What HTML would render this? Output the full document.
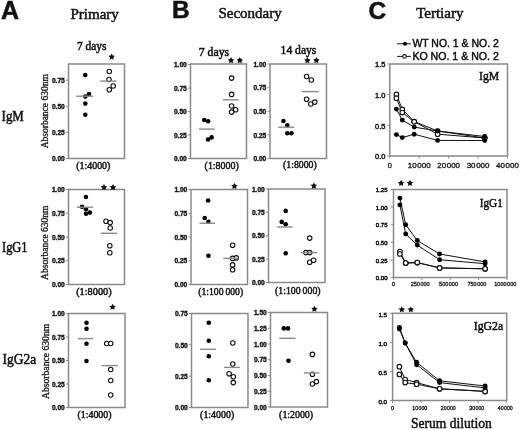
<!DOCTYPE html>
<html><head><meta charset="utf-8"><title>Figure</title>
<style>html,body{margin:0;padding:0;background:#fff;} body{width:520px;height:430px;overflow:hidden;font-family:"Liberation Sans", sans-serif;} svg{display:block;filter:grayscale(1);}</style>
</head><body>
<svg width="520" height="430" viewBox="0 0 520 430">
<rect width="520" height="430" fill="#fff"/>
<text x="1.00" y="18.50" font-family='"Liberation Sans", sans-serif' font-size="25" font-weight="bold" text-anchor="start" fill="#111" stroke="#111" stroke-width="0.5" >A</text>
<text x="171.90" y="18.30" font-family='"Liberation Sans", sans-serif' font-size="24.5" font-weight="bold" text-anchor="start" fill="#111" stroke="#111" stroke-width="0.5" >B</text>
<text x="368.40" y="19.20" font-family='"Liberation Sans", sans-serif' font-size="24.5" font-weight="bold" text-anchor="start" fill="#111" stroke="#111" stroke-width="0.5" >C</text>
<text x="70.50" y="18.80" font-family='"Liberation Serif", serif' font-size="15" font-weight="normal" text-anchor="start" fill="#111" stroke="#111" stroke-width="0.5" >Primary</text>
<text x="218.40" y="18.20" font-family='"Liberation Serif", serif' font-size="15" font-weight="normal" text-anchor="start" fill="#111" stroke="#111" stroke-width="0.5" >Secondary</text>
<text x="416.20" y="17.50" font-family='"Liberation Serif", serif' font-size="15" font-weight="normal" text-anchor="start" fill="#111" stroke="#111" stroke-width="0.5" >Tertiary</text>
<text x="1.60" y="121.00" font-family='"Liberation Serif", serif' font-size="14" font-weight="normal" text-anchor="start" fill="#111" stroke="#111" stroke-width="0.5" textLength="22.20" lengthAdjust="spacingAndGlyphs" >IgM</text>
<text x="2.00" y="252.00" font-family='"Liberation Serif", serif' font-size="14" font-weight="normal" text-anchor="start" fill="#111" stroke="#111" stroke-width="0.5" textLength="25.60" lengthAdjust="spacingAndGlyphs" >IgG1</text>
<text x="2.60" y="364.00" font-family='"Liberation Serif", serif' font-size="14" font-weight="normal" text-anchor="start" fill="#111" stroke="#111" stroke-width="0.5" textLength="33.60" lengthAdjust="spacingAndGlyphs" >IgG2a</text>
<text transform="translate(47.90,148.30) rotate(-90)" font-family='"Liberation Serif", serif' font-size="10" fill="#111" stroke="#111" stroke-width="0.3" textLength="74.10" lengthAdjust="spacingAndGlyphs">Absorbance 630nm</text>
<text transform="translate(48.30,279.90) rotate(-90)" font-family='"Liberation Serif", serif' font-size="10" fill="#111" stroke="#111" stroke-width="0.3" textLength="74.40" lengthAdjust="spacingAndGlyphs">Absorbance 630nm</text>
<text transform="translate(49.00,399.00) rotate(-90)" font-family='"Liberation Serif", serif' font-size="10" fill="#111" stroke="#111" stroke-width="0.3" textLength="75.20" lengthAdjust="spacingAndGlyphs">Absorbance 630nm</text>
<rect x="68.50" y="64.00" width="56.00" height="94.50" fill="none" stroke="#8a8a8a" stroke-width="1.5"/>
<line x1="66.00" y1="158.50" x2="68.50" y2="158.50" stroke="#8a8a8a" stroke-width="1"/>
<text x="64.80" y="161.20" font-family='"Liberation Sans", sans-serif' font-size="6.6" font-weight="bold" text-anchor="end" fill="#111" stroke="#111" stroke-width="0.35" >0.00</text>
<line x1="66.00" y1="132.40" x2="68.50" y2="132.40" stroke="#8a8a8a" stroke-width="1"/>
<text x="64.80" y="135.10" font-family='"Liberation Sans", sans-serif' font-size="6.6" font-weight="bold" text-anchor="end" fill="#111" stroke="#111" stroke-width="0.35" >0.25</text>
<line x1="66.00" y1="106.30" x2="68.50" y2="106.30" stroke="#8a8a8a" stroke-width="1"/>
<text x="64.80" y="109.00" font-family='"Liberation Sans", sans-serif' font-size="6.6" font-weight="bold" text-anchor="end" fill="#111" stroke="#111" stroke-width="0.35" >0.50</text>
<line x1="66.00" y1="80.20" x2="68.50" y2="80.20" stroke="#8a8a8a" stroke-width="1"/>
<text x="64.80" y="82.90" font-family='"Liberation Sans", sans-serif' font-size="6.6" font-weight="bold" text-anchor="end" fill="#111" stroke="#111" stroke-width="0.35" >0.75</text>
<circle cx="85.30" cy="75.00" r="2.3" fill="#000"/>
<circle cx="89.00" cy="94.10" r="2.3" fill="#000"/>
<circle cx="85.30" cy="96.60" r="2.3" fill="#000"/>
<circle cx="85.30" cy="103.60" r="2.3" fill="#000"/>
<circle cx="85.30" cy="114.80" r="2.3" fill="#000"/>
<line x1="76.20" y1="96.20" x2="93.00" y2="96.20" stroke="#8a8a8a" stroke-width="1.4"/>
<circle cx="109.30" cy="71.50" r="2.25" fill="#fff" stroke="#111" stroke-width="1.1"/>
<circle cx="109.00" cy="79.50" r="2.25" fill="#fff" stroke="#111" stroke-width="1.1"/>
<circle cx="113.20" cy="86.00" r="2.25" fill="#fff" stroke="#111" stroke-width="1.1"/>
<circle cx="109.30" cy="89.70" r="2.25" fill="#fff" stroke="#111" stroke-width="1.1"/>
<line x1="99.90" y1="81.10" x2="116.40" y2="81.10" stroke="#8a8a8a" stroke-width="1.4"/>
<polygon points="111.70,53.50 112.74,55.47 114.93,55.85 113.38,57.45 113.70,59.65 111.70,58.67 109.70,59.65 110.02,57.45 108.47,55.85 110.66,55.47" fill="#111"/>
<text x="77.00" y="49.90" font-family='"Liberation Serif", serif' font-size="11.5" font-weight="normal" text-anchor="start" fill="#111" stroke="#111" stroke-width="0.5" textLength="29.50" lengthAdjust="spacingAndGlyphs" >7 days</text>
<text x="76.20" y="168.80" font-family='"Liberation Serif", serif' font-size="11" font-weight="normal" text-anchor="start" fill="#111" stroke="#111" stroke-width="0.5" textLength="34.20" lengthAdjust="spacingAndGlyphs" >(1:4000)</text>
<rect x="68.50" y="189.50" width="56.00" height="95.00" fill="none" stroke="#8a8a8a" stroke-width="1.5"/>
<line x1="66.00" y1="284.50" x2="68.50" y2="284.50" stroke="#8a8a8a" stroke-width="1"/>
<text x="64.80" y="287.20" font-family='"Liberation Sans", sans-serif' font-size="6.6" font-weight="bold" text-anchor="end" fill="#111" stroke="#111" stroke-width="0.35" >0.00</text>
<line x1="66.00" y1="260.75" x2="68.50" y2="260.75" stroke="#8a8a8a" stroke-width="1"/>
<text x="64.80" y="263.45" font-family='"Liberation Sans", sans-serif' font-size="6.6" font-weight="bold" text-anchor="end" fill="#111" stroke="#111" stroke-width="0.35" >0.25</text>
<line x1="66.00" y1="237.00" x2="68.50" y2="237.00" stroke="#8a8a8a" stroke-width="1"/>
<text x="64.80" y="239.70" font-family='"Liberation Sans", sans-serif' font-size="6.6" font-weight="bold" text-anchor="end" fill="#111" stroke="#111" stroke-width="0.35" >0.50</text>
<line x1="66.00" y1="213.25" x2="68.50" y2="213.25" stroke="#8a8a8a" stroke-width="1"/>
<text x="64.80" y="215.95" font-family='"Liberation Sans", sans-serif' font-size="6.6" font-weight="bold" text-anchor="end" fill="#111" stroke="#111" stroke-width="0.35" >0.75</text>
<line x1="66.00" y1="189.50" x2="68.50" y2="189.50" stroke="#8a8a8a" stroke-width="1"/>
<text x="64.80" y="192.20" font-family='"Liberation Sans", sans-serif' font-size="6.6" font-weight="bold" text-anchor="end" fill="#111" stroke="#111" stroke-width="0.35" >1.00</text>
<circle cx="85.90" cy="197.00" r="2.3" fill="#000"/>
<circle cx="82.00" cy="206.70" r="2.3" fill="#000"/>
<circle cx="86.00" cy="209.30" r="2.3" fill="#000"/>
<circle cx="86.00" cy="213.70" r="2.3" fill="#000"/>
<circle cx="89.90" cy="212.60" r="2.3" fill="#000"/>
<line x1="76.90" y1="207.20" x2="93.10" y2="207.20" stroke="#8a8a8a" stroke-width="1.4"/>
<circle cx="106.00" cy="221.20" r="2.25" fill="#fff" stroke="#111" stroke-width="1.1"/>
<circle cx="110.20" cy="222.60" r="2.25" fill="#fff" stroke="#111" stroke-width="1.1"/>
<circle cx="110.20" cy="228.00" r="2.25" fill="#fff" stroke="#111" stroke-width="1.1"/>
<circle cx="109.80" cy="245.80" r="2.25" fill="#fff" stroke="#111" stroke-width="1.1"/>
<circle cx="109.80" cy="252.80" r="2.25" fill="#fff" stroke="#111" stroke-width="1.1"/>
<line x1="101.00" y1="233.30" x2="117.20" y2="233.30" stroke="#8a8a8a" stroke-width="1.4"/>
<polygon points="104.00,184.00 105.04,185.97 107.23,186.35 105.68,187.95 106.00,190.15 104.00,189.17 102.00,190.15 102.32,187.95 100.77,186.35 102.96,185.97" fill="#111"/>
<polygon points="113.00,184.00 114.04,185.97 116.23,186.35 114.68,187.95 115.00,190.15 113.00,189.17 111.00,190.15 111.32,187.95 109.77,186.35 111.96,185.97" fill="#111"/>
<text x="76.20" y="294.50" font-family='"Liberation Serif", serif' font-size="11" font-weight="normal" text-anchor="start" fill="#111" stroke="#111" stroke-width="0.5" textLength="35.40" lengthAdjust="spacingAndGlyphs" >(1:8000)</text>
<rect x="68.50" y="313.50" width="56.50" height="94.00" fill="none" stroke="#8a8a8a" stroke-width="1.5"/>
<line x1="66.00" y1="407.50" x2="68.50" y2="407.50" stroke="#8a8a8a" stroke-width="1"/>
<text x="64.80" y="410.20" font-family='"Liberation Sans", sans-serif' font-size="6.6" font-weight="bold" text-anchor="end" fill="#111" stroke="#111" stroke-width="0.35" >0.00</text>
<line x1="66.00" y1="384.00" x2="68.50" y2="384.00" stroke="#8a8a8a" stroke-width="1"/>
<text x="64.80" y="386.70" font-family='"Liberation Sans", sans-serif' font-size="6.6" font-weight="bold" text-anchor="end" fill="#111" stroke="#111" stroke-width="0.35" >0.25</text>
<line x1="66.00" y1="360.50" x2="68.50" y2="360.50" stroke="#8a8a8a" stroke-width="1"/>
<text x="64.80" y="363.20" font-family='"Liberation Sans", sans-serif' font-size="6.6" font-weight="bold" text-anchor="end" fill="#111" stroke="#111" stroke-width="0.35" >0.50</text>
<line x1="66.00" y1="337.00" x2="68.50" y2="337.00" stroke="#8a8a8a" stroke-width="1"/>
<text x="64.80" y="339.70" font-family='"Liberation Sans", sans-serif' font-size="6.6" font-weight="bold" text-anchor="end" fill="#111" stroke="#111" stroke-width="0.35" >0.75</text>
<line x1="66.00" y1="313.50" x2="68.50" y2="313.50" stroke="#8a8a8a" stroke-width="1"/>
<text x="64.80" y="316.20" font-family='"Liberation Sans", sans-serif' font-size="6.6" font-weight="bold" text-anchor="end" fill="#111" stroke="#111" stroke-width="0.35" >1.00</text>
<circle cx="86.50" cy="322.80" r="2.3" fill="#000"/>
<circle cx="86.50" cy="328.80" r="2.3" fill="#000"/>
<circle cx="86.50" cy="343.70" r="2.3" fill="#000"/>
<circle cx="86.50" cy="361.00" r="2.3" fill="#000"/>
<line x1="77.70" y1="338.60" x2="93.30" y2="338.60" stroke="#8a8a8a" stroke-width="1.4"/>
<circle cx="106.70" cy="343.50" r="2.25" fill="#fff" stroke="#111" stroke-width="1.1"/>
<circle cx="110.70" cy="343.50" r="2.25" fill="#fff" stroke="#111" stroke-width="1.1"/>
<circle cx="110.70" cy="369.50" r="2.25" fill="#fff" stroke="#111" stroke-width="1.1"/>
<circle cx="110.70" cy="380.50" r="2.25" fill="#fff" stroke="#111" stroke-width="1.1"/>
<circle cx="110.70" cy="395.00" r="2.25" fill="#fff" stroke="#111" stroke-width="1.1"/>
<line x1="101.60" y1="365.60" x2="117.90" y2="365.60" stroke="#8a8a8a" stroke-width="1.4"/>
<polygon points="112.60,303.70 113.64,305.67 115.83,306.05 114.28,307.65 114.60,309.85 112.60,308.87 110.60,309.85 110.92,307.65 109.37,306.05 111.56,305.67" fill="#111"/>
<text x="77.40" y="418.00" font-family='"Liberation Serif", serif' font-size="11" font-weight="normal" text-anchor="start" fill="#111" stroke="#111" stroke-width="0.5" textLength="34.20" lengthAdjust="spacingAndGlyphs" >(1:4000)</text>
<rect x="190.50" y="64.00" width="56.00" height="94.50" fill="none" stroke="#8a8a8a" stroke-width="1.5"/>
<line x1="188.00" y1="158.50" x2="190.50" y2="158.50" stroke="#8a8a8a" stroke-width="1"/>
<text x="186.80" y="161.20" font-family='"Liberation Sans", sans-serif' font-size="6.6" font-weight="bold" text-anchor="end" fill="#111" stroke="#111" stroke-width="0.35" >0.00</text>
<line x1="188.00" y1="135.00" x2="190.50" y2="135.00" stroke="#8a8a8a" stroke-width="1"/>
<text x="186.80" y="137.70" font-family='"Liberation Sans", sans-serif' font-size="6.6" font-weight="bold" text-anchor="end" fill="#111" stroke="#111" stroke-width="0.35" >0.25</text>
<line x1="188.00" y1="111.50" x2="190.50" y2="111.50" stroke="#8a8a8a" stroke-width="1"/>
<text x="186.80" y="114.20" font-family='"Liberation Sans", sans-serif' font-size="6.6" font-weight="bold" text-anchor="end" fill="#111" stroke="#111" stroke-width="0.35" >0.50</text>
<line x1="188.00" y1="88.00" x2="190.50" y2="88.00" stroke="#8a8a8a" stroke-width="1"/>
<text x="186.80" y="90.70" font-family='"Liberation Sans", sans-serif' font-size="6.6" font-weight="bold" text-anchor="end" fill="#111" stroke="#111" stroke-width="0.35" >0.75</text>
<line x1="188.00" y1="64.50" x2="190.50" y2="64.50" stroke="#8a8a8a" stroke-width="1"/>
<text x="186.80" y="67.20" font-family='"Liberation Sans", sans-serif' font-size="6.6" font-weight="bold" text-anchor="end" fill="#111" stroke="#111" stroke-width="0.35" >1.00</text>
<circle cx="204.20" cy="120.00" r="2.3" fill="#000"/>
<circle cx="208.10" cy="121.20" r="2.3" fill="#000"/>
<circle cx="208.10" cy="139.50" r="2.3" fill="#000"/>
<circle cx="211.60" cy="137.40" r="2.3" fill="#000"/>
<line x1="199.00" y1="129.10" x2="214.70" y2="129.10" stroke="#8a8a8a" stroke-width="1.4"/>
<circle cx="231.60" cy="78.10" r="2.25" fill="#fff" stroke="#111" stroke-width="1.1"/>
<circle cx="231.60" cy="94.40" r="2.25" fill="#fff" stroke="#111" stroke-width="1.1"/>
<circle cx="231.60" cy="106.00" r="2.25" fill="#fff" stroke="#111" stroke-width="1.1"/>
<circle cx="235.60" cy="109.80" r="2.25" fill="#fff" stroke="#111" stroke-width="1.1"/>
<circle cx="231.60" cy="112.10" r="2.25" fill="#fff" stroke="#111" stroke-width="1.1"/>
<line x1="222.80" y1="99.80" x2="238.60" y2="99.80" stroke="#8a8a8a" stroke-width="1.4"/>
<polygon points="231.00,57.10 232.04,59.07 234.23,59.45 232.68,61.05 233.00,63.25 231.00,62.27 229.00,63.25 229.32,61.05 227.77,59.45 229.96,59.07" fill="#111"/>
<polygon points="239.80,57.10 240.84,59.07 243.03,59.45 241.48,61.05 241.80,63.25 239.80,62.27 237.80,63.25 238.12,61.05 236.57,59.45 238.76,59.07" fill="#111"/>
<text x="198.80" y="55.80" font-family='"Liberation Serif", serif' font-size="11.5" font-weight="normal" text-anchor="start" fill="#111" stroke="#111" stroke-width="0.5" textLength="30.40" lengthAdjust="spacingAndGlyphs" >7 days</text>
<text x="204.60" y="168.80" font-family='"Liberation Serif", serif' font-size="11" font-weight="normal" text-anchor="start" fill="#111" stroke="#111" stroke-width="0.5" textLength="34.20" lengthAdjust="spacingAndGlyphs" >(1:8000)</text>
<rect x="270.00" y="64.00" width="56.50" height="94.50" fill="none" stroke="#8a8a8a" stroke-width="1.5"/>
<line x1="267.50" y1="158.50" x2="270.00" y2="158.50" stroke="#8a8a8a" stroke-width="1"/>
<text x="266.30" y="161.20" font-family='"Liberation Sans", sans-serif' font-size="6.6" font-weight="bold" text-anchor="end" fill="#111" stroke="#111" stroke-width="0.35" >0.00</text>
<line x1="267.50" y1="134.90" x2="270.00" y2="134.90" stroke="#8a8a8a" stroke-width="1"/>
<text x="266.30" y="137.60" font-family='"Liberation Sans", sans-serif' font-size="6.6" font-weight="bold" text-anchor="end" fill="#111" stroke="#111" stroke-width="0.35" >0.25</text>
<line x1="267.50" y1="111.30" x2="270.00" y2="111.30" stroke="#8a8a8a" stroke-width="1"/>
<text x="266.30" y="114.00" font-family='"Liberation Sans", sans-serif' font-size="6.6" font-weight="bold" text-anchor="end" fill="#111" stroke="#111" stroke-width="0.35" >0.50</text>
<line x1="267.50" y1="87.70" x2="270.00" y2="87.70" stroke="#8a8a8a" stroke-width="1"/>
<text x="266.30" y="90.40" font-family='"Liberation Sans", sans-serif' font-size="6.6" font-weight="bold" text-anchor="end" fill="#111" stroke="#111" stroke-width="0.35" >0.75</text>
<line x1="267.50" y1="64.10" x2="270.00" y2="64.10" stroke="#8a8a8a" stroke-width="1"/>
<text x="266.30" y="66.80" font-family='"Liberation Sans", sans-serif' font-size="6.6" font-weight="bold" text-anchor="end" fill="#111" stroke="#111" stroke-width="0.35" >1.00</text>
<circle cx="283.40" cy="121.00" r="2.3" fill="#000"/>
<circle cx="287.30" cy="125.30" r="2.3" fill="#000"/>
<circle cx="287.30" cy="133.30" r="2.3" fill="#000"/>
<circle cx="291.50" cy="133.30" r="2.3" fill="#000"/>
<line x1="278.30" y1="127.20" x2="294.30" y2="127.20" stroke="#8a8a8a" stroke-width="1.4"/>
<circle cx="306.60" cy="76.50" r="2.25" fill="#fff" stroke="#111" stroke-width="1.1"/>
<circle cx="311.30" cy="80.00" r="2.25" fill="#fff" stroke="#111" stroke-width="1.1"/>
<circle cx="306.60" cy="99.30" r="2.25" fill="#fff" stroke="#111" stroke-width="1.1"/>
<circle cx="310.80" cy="104.00" r="2.25" fill="#fff" stroke="#111" stroke-width="1.1"/>
<circle cx="314.80" cy="102.10" r="2.25" fill="#fff" stroke="#111" stroke-width="1.1"/>
<line x1="302.00" y1="91.60" x2="318.70" y2="91.60" stroke="#8a8a8a" stroke-width="1.4"/>
<polygon points="307.40,57.10 308.44,59.07 310.63,59.45 309.08,61.05 309.40,63.25 307.40,62.27 305.40,63.25 305.72,61.05 304.17,59.45 306.36,59.07" fill="#111"/>
<polygon points="316.40,57.10 317.44,59.07 319.63,59.45 318.08,61.05 318.40,63.25 316.40,62.27 314.40,63.25 314.72,61.05 313.17,59.45 315.36,59.07" fill="#111"/>
<text x="280.60" y="54.00" font-family='"Liberation Serif", serif' font-size="11.5" font-weight="normal" text-anchor="start" fill="#111" stroke="#111" stroke-width="0.5" textLength="35.80" lengthAdjust="spacingAndGlyphs" >14 days</text>
<text x="283.10" y="168.40" font-family='"Liberation Serif", serif' font-size="11" font-weight="normal" text-anchor="start" fill="#111" stroke="#111" stroke-width="0.5" textLength="33.60" lengthAdjust="spacingAndGlyphs" >(1:8000)</text>
<rect x="191.00" y="189.50" width="56.50" height="95.00" fill="none" stroke="#8a8a8a" stroke-width="1.5"/>
<line x1="188.50" y1="284.50" x2="191.00" y2="284.50" stroke="#8a8a8a" stroke-width="1"/>
<text x="187.30" y="287.20" font-family='"Liberation Sans", sans-serif' font-size="6.6" font-weight="bold" text-anchor="end" fill="#111" stroke="#111" stroke-width="0.35" >0.00</text>
<line x1="188.50" y1="260.75" x2="191.00" y2="260.75" stroke="#8a8a8a" stroke-width="1"/>
<text x="187.30" y="263.45" font-family='"Liberation Sans", sans-serif' font-size="6.6" font-weight="bold" text-anchor="end" fill="#111" stroke="#111" stroke-width="0.35" >0.25</text>
<line x1="188.50" y1="237.00" x2="191.00" y2="237.00" stroke="#8a8a8a" stroke-width="1"/>
<text x="187.30" y="239.70" font-family='"Liberation Sans", sans-serif' font-size="6.6" font-weight="bold" text-anchor="end" fill="#111" stroke="#111" stroke-width="0.35" >0.50</text>
<line x1="188.50" y1="213.25" x2="191.00" y2="213.25" stroke="#8a8a8a" stroke-width="1"/>
<text x="187.30" y="215.95" font-family='"Liberation Sans", sans-serif' font-size="6.6" font-weight="bold" text-anchor="end" fill="#111" stroke="#111" stroke-width="0.35" >0.75</text>
<line x1="188.50" y1="189.50" x2="191.00" y2="189.50" stroke="#8a8a8a" stroke-width="1"/>
<text x="187.30" y="192.20" font-family='"Liberation Sans", sans-serif' font-size="6.6" font-weight="bold" text-anchor="end" fill="#111" stroke="#111" stroke-width="0.35" >1.00</text>
<circle cx="208.10" cy="200.50" r="2.3" fill="#000"/>
<circle cx="204.70" cy="218.00" r="2.3" fill="#000"/>
<circle cx="208.40" cy="221.80" r="2.3" fill="#000"/>
<circle cx="208.40" cy="255.80" r="2.3" fill="#000"/>
<line x1="199.50" y1="223.20" x2="215.10" y2="223.20" stroke="#8a8a8a" stroke-width="1.4"/>
<circle cx="232.60" cy="245.30" r="2.25" fill="#fff" stroke="#111" stroke-width="1.1"/>
<circle cx="232.60" cy="258.40" r="2.25" fill="#fff" stroke="#111" stroke-width="1.1"/>
<circle cx="236.30" cy="257.90" r="2.25" fill="#fff" stroke="#111" stroke-width="1.1"/>
<circle cx="232.60" cy="264.90" r="2.25" fill="#fff" stroke="#111" stroke-width="1.1"/>
<circle cx="232.60" cy="269.80" r="2.25" fill="#fff" stroke="#111" stroke-width="1.1"/>
<line x1="223.30" y1="258.40" x2="238.60" y2="258.40" stroke="#8a8a8a" stroke-width="1.4"/>
<polygon points="234.40,182.90 235.44,184.87 237.63,185.25 236.08,186.85 236.40,189.05 234.40,188.07 232.40,189.05 232.72,186.85 231.17,185.25 233.36,184.87" fill="#111"/>
<text x="198.30" y="294.60" font-family='"Liberation Serif", serif' font-size="11.3" font-weight="normal" text-anchor="start" fill="#111" stroke="#111" stroke-width="0.5" textLength="44.80" lengthAdjust="spacingAndGlyphs" >(1:100&#8201;000)</text>
<rect x="268.50" y="189.00" width="56.50" height="93.50" fill="none" stroke="#8a8a8a" stroke-width="1.5"/>
<line x1="266.00" y1="282.50" x2="268.50" y2="282.50" stroke="#8a8a8a" stroke-width="1"/>
<text x="264.80" y="285.20" font-family='"Liberation Sans", sans-serif' font-size="6.6" font-weight="bold" text-anchor="end" fill="#111" stroke="#111" stroke-width="0.35" >0.00</text>
<line x1="266.00" y1="259.10" x2="268.50" y2="259.10" stroke="#8a8a8a" stroke-width="1"/>
<text x="264.80" y="261.80" font-family='"Liberation Sans", sans-serif' font-size="6.6" font-weight="bold" text-anchor="end" fill="#111" stroke="#111" stroke-width="0.35" >0.25</text>
<line x1="266.00" y1="235.70" x2="268.50" y2="235.70" stroke="#8a8a8a" stroke-width="1"/>
<text x="264.80" y="238.40" font-family='"Liberation Sans", sans-serif' font-size="6.6" font-weight="bold" text-anchor="end" fill="#111" stroke="#111" stroke-width="0.35" >0.50</text>
<line x1="266.00" y1="212.30" x2="268.50" y2="212.30" stroke="#8a8a8a" stroke-width="1"/>
<text x="264.80" y="215.00" font-family='"Liberation Sans", sans-serif' font-size="6.6" font-weight="bold" text-anchor="end" fill="#111" stroke="#111" stroke-width="0.35" >0.75</text>
<line x1="266.00" y1="188.90" x2="268.50" y2="188.90" stroke="#8a8a8a" stroke-width="1"/>
<text x="264.80" y="191.60" font-family='"Liberation Sans", sans-serif' font-size="6.6" font-weight="bold" text-anchor="end" fill="#111" stroke="#111" stroke-width="0.35" >1.00</text>
<circle cx="285.70" cy="210.90" r="2.3" fill="#000"/>
<circle cx="281.70" cy="221.90" r="2.3" fill="#000"/>
<circle cx="285.70" cy="224.20" r="2.3" fill="#000"/>
<circle cx="285.70" cy="253.30" r="2.3" fill="#000"/>
<line x1="277.10" y1="227.00" x2="292.70" y2="227.00" stroke="#8a8a8a" stroke-width="1.4"/>
<circle cx="309.70" cy="238.10" r="2.25" fill="#fff" stroke="#111" stroke-width="1.1"/>
<circle cx="305.90" cy="252.60" r="2.25" fill="#fff" stroke="#111" stroke-width="1.1"/>
<circle cx="309.70" cy="252.60" r="2.25" fill="#fff" stroke="#111" stroke-width="1.1"/>
<circle cx="309.70" cy="262.30" r="2.25" fill="#fff" stroke="#111" stroke-width="1.1"/>
<circle cx="313.60" cy="260.20" r="2.25" fill="#fff" stroke="#111" stroke-width="1.1"/>
<line x1="300.80" y1="252.60" x2="317.10" y2="252.60" stroke="#8a8a8a" stroke-width="1.4"/>
<polygon points="313.90,182.50 314.94,184.47 317.13,184.85 315.58,186.45 315.90,188.65 313.90,187.67 311.90,188.65 312.22,186.45 310.67,184.85 312.86,184.47" fill="#111"/>
<text x="275.00" y="294.10" font-family='"Liberation Serif", serif' font-size="11.3" font-weight="normal" text-anchor="start" fill="#111" stroke="#111" stroke-width="0.5" textLength="45.60" lengthAdjust="spacingAndGlyphs" >(1:100&#8201;000)</text>
<rect x="191.50" y="313.50" width="56.50" height="94.00" fill="none" stroke="#8a8a8a" stroke-width="1.5"/>
<line x1="189.00" y1="407.50" x2="191.50" y2="407.50" stroke="#8a8a8a" stroke-width="1"/>
<text x="187.80" y="410.20" font-family='"Liberation Sans", sans-serif' font-size="6.6" font-weight="bold" text-anchor="end" fill="#111" stroke="#111" stroke-width="0.35" >0.00</text>
<line x1="189.00" y1="376.17" x2="191.50" y2="376.17" stroke="#8a8a8a" stroke-width="1"/>
<text x="187.80" y="378.87" font-family='"Liberation Sans", sans-serif' font-size="6.6" font-weight="bold" text-anchor="end" fill="#111" stroke="#111" stroke-width="0.35" >0.25</text>
<line x1="189.00" y1="344.84" x2="191.50" y2="344.84" stroke="#8a8a8a" stroke-width="1"/>
<text x="187.80" y="347.54" font-family='"Liberation Sans", sans-serif' font-size="6.6" font-weight="bold" text-anchor="end" fill="#111" stroke="#111" stroke-width="0.35" >0.50</text>
<line x1="189.00" y1="313.51" x2="191.50" y2="313.51" stroke="#8a8a8a" stroke-width="1"/>
<text x="187.80" y="316.21" font-family='"Liberation Sans", sans-serif' font-size="6.6" font-weight="bold" text-anchor="end" fill="#111" stroke="#111" stroke-width="0.35" >0.75</text>
<circle cx="208.80" cy="322.80" r="2.3" fill="#000"/>
<circle cx="208.80" cy="340.70" r="2.3" fill="#000"/>
<circle cx="208.80" cy="356.30" r="2.3" fill="#000"/>
<circle cx="208.80" cy="380.20" r="2.3" fill="#000"/>
<line x1="200.20" y1="349.30" x2="215.80" y2="349.30" stroke="#8a8a8a" stroke-width="1.4"/>
<circle cx="232.80" cy="343.00" r="2.25" fill="#fff" stroke="#111" stroke-width="1.1"/>
<circle cx="232.80" cy="364.00" r="2.25" fill="#fff" stroke="#111" stroke-width="1.1"/>
<circle cx="229.10" cy="373.70" r="2.25" fill="#fff" stroke="#111" stroke-width="1.1"/>
<circle cx="233.30" cy="376.70" r="2.25" fill="#fff" stroke="#111" stroke-width="1.1"/>
<circle cx="233.30" cy="382.60" r="2.25" fill="#fff" stroke="#111" stroke-width="1.1"/>
<line x1="224.00" y1="367.40" x2="239.80" y2="367.40" stroke="#8a8a8a" stroke-width="1.4"/>
<text x="200.10" y="418.00" font-family='"Liberation Serif", serif' font-size="11" font-weight="normal" text-anchor="start" fill="#111" stroke="#111" stroke-width="0.5" textLength="34.20" lengthAdjust="spacingAndGlyphs" >(1:4000)</text>
<rect x="270.50" y="312.50" width="57.00" height="94.50" fill="none" stroke="#8a8a8a" stroke-width="1.5"/>
<line x1="268.00" y1="407.00" x2="270.50" y2="407.00" stroke="#8a8a8a" stroke-width="1"/>
<text x="266.80" y="409.70" font-family='"Liberation Sans", sans-serif' font-size="6.6" font-weight="bold" text-anchor="end" fill="#111" stroke="#111" stroke-width="0.35" >0.00</text>
<line x1="268.00" y1="391.25" x2="270.50" y2="391.25" stroke="#8a8a8a" stroke-width="1"/>
<text x="266.80" y="393.95" font-family='"Liberation Sans", sans-serif' font-size="6.6" font-weight="bold" text-anchor="end" fill="#111" stroke="#111" stroke-width="0.35" >0.25</text>
<line x1="268.00" y1="375.50" x2="270.50" y2="375.50" stroke="#8a8a8a" stroke-width="1"/>
<text x="266.80" y="378.20" font-family='"Liberation Sans", sans-serif' font-size="6.6" font-weight="bold" text-anchor="end" fill="#111" stroke="#111" stroke-width="0.35" >0.50</text>
<line x1="268.00" y1="359.75" x2="270.50" y2="359.75" stroke="#8a8a8a" stroke-width="1"/>
<text x="266.80" y="362.45" font-family='"Liberation Sans", sans-serif' font-size="6.6" font-weight="bold" text-anchor="end" fill="#111" stroke="#111" stroke-width="0.35" >0.75</text>
<line x1="268.00" y1="344.00" x2="270.50" y2="344.00" stroke="#8a8a8a" stroke-width="1"/>
<text x="266.80" y="346.70" font-family='"Liberation Sans", sans-serif' font-size="6.6" font-weight="bold" text-anchor="end" fill="#111" stroke="#111" stroke-width="0.35" >1.00</text>
<line x1="268.00" y1="328.25" x2="270.50" y2="328.25" stroke="#8a8a8a" stroke-width="1"/>
<text x="266.80" y="330.95" font-family='"Liberation Sans", sans-serif' font-size="6.6" font-weight="bold" text-anchor="end" fill="#111" stroke="#111" stroke-width="0.35" >1.25</text>
<line x1="268.00" y1="312.50" x2="270.50" y2="312.50" stroke="#8a8a8a" stroke-width="1"/>
<text x="266.80" y="315.20" font-family='"Liberation Sans", sans-serif' font-size="6.6" font-weight="bold" text-anchor="end" fill="#111" stroke="#111" stroke-width="0.35" >1.50</text>
<circle cx="283.80" cy="328.40" r="2.3" fill="#000"/>
<circle cx="288.00" cy="328.40" r="2.3" fill="#000"/>
<circle cx="288.50" cy="360.70" r="2.3" fill="#000"/>
<line x1="279.20" y1="338.30" x2="295.50" y2="338.30" stroke="#8a8a8a" stroke-width="1.4"/>
<circle cx="312.40" cy="354.40" r="2.25" fill="#fff" stroke="#111" stroke-width="1.1"/>
<circle cx="312.40" cy="374.20" r="2.25" fill="#fff" stroke="#111" stroke-width="1.1"/>
<circle cx="312.40" cy="384.00" r="2.25" fill="#fff" stroke="#111" stroke-width="1.1"/>
<circle cx="316.40" cy="381.60" r="2.25" fill="#fff" stroke="#111" stroke-width="1.1"/>
<line x1="303.80" y1="373.00" x2="319.40" y2="373.00" stroke="#8a8a8a" stroke-width="1.4"/>
<polygon points="314.40,305.70 315.44,307.67 317.63,308.05 316.08,309.65 316.40,311.85 314.40,310.87 312.40,311.85 312.72,309.65 311.17,308.05 313.36,307.67" fill="#111"/>
<text x="279.10" y="418.00" font-family='"Liberation Serif", serif' font-size="11" font-weight="normal" text-anchor="start" fill="#111" stroke="#111" stroke-width="0.5" textLength="34.00" lengthAdjust="spacingAndGlyphs" >(1:2000)</text>
<line x1="397.10" y1="43.80" x2="410.90" y2="43.80" stroke="#111" stroke-width="1"/>
<circle cx="405.00" cy="43.80" r="2.0" fill="#000"/>
<line x1="397.10" y1="56.40" x2="410.90" y2="56.40" stroke="#111" stroke-width="1"/>
<circle cx="404.50" cy="56.40" r="1.8" fill="#fff" stroke="#111" stroke-width="1.1"/>
<text x="412.40" y="47.40" font-family='"Liberation Sans", sans-serif' font-size="10.4" font-weight="normal" text-anchor="start" fill="#111" stroke="#111" stroke-width="0.45" textLength="86.40" lengthAdjust="spacingAndGlyphs" >WT NO. 1 &amp; NO. 2</text>
<text x="412.40" y="60.10" font-family='"Liberation Sans", sans-serif' font-size="10.4" font-weight="normal" text-anchor="start" fill="#111" stroke="#111" stroke-width="0.45" textLength="86.40" lengthAdjust="spacingAndGlyphs" >KO NO. 1 &amp; NO. 2</text>
<rect x="389.80" y="64.00" width="117.70" height="92.00" fill="none" stroke="#8a8a8a" stroke-width="1.5"/>
<line x1="387.30" y1="156.00" x2="389.80" y2="156.00" stroke="#8a8a8a" stroke-width="1"/>
<text x="385.30" y="159.36" font-family='"Liberation Sans", sans-serif' font-size="7.4" font-weight="normal" text-anchor="end" fill="#111" stroke="#111" stroke-width="0.45" >0.0</text>
<line x1="387.30" y1="125.33" x2="389.80" y2="125.33" stroke="#8a8a8a" stroke-width="1"/>
<text x="385.30" y="128.70" font-family='"Liberation Sans", sans-serif' font-size="7.4" font-weight="normal" text-anchor="end" fill="#111" stroke="#111" stroke-width="0.45" >0.5</text>
<line x1="387.30" y1="94.67" x2="389.80" y2="94.67" stroke="#8a8a8a" stroke-width="1"/>
<text x="385.30" y="98.03" font-family='"Liberation Sans", sans-serif' font-size="7.4" font-weight="normal" text-anchor="end" fill="#111" stroke="#111" stroke-width="0.45" >1.0</text>
<line x1="387.30" y1="64.00" x2="389.80" y2="64.00" stroke="#8a8a8a" stroke-width="1"/>
<text x="385.30" y="67.36" font-family='"Liberation Sans", sans-serif' font-size="7.4" font-weight="normal" text-anchor="end" fill="#111" stroke="#111" stroke-width="0.45" >1.5</text>
<line x1="389.80" y1="156.00" x2="389.80" y2="158.50" stroke="#8a8a8a" stroke-width="1"/>
<text x="389.80" y="167.83" font-family='"Liberation Sans", sans-serif' font-size="7.4" font-weight="normal" text-anchor="middle" fill="#111" stroke="#111" stroke-width="0.3" >0</text>
<line x1="419.23" y1="156.00" x2="419.23" y2="158.50" stroke="#8a8a8a" stroke-width="1"/>
<text x="419.23" y="167.83" font-family='"Liberation Sans", sans-serif' font-size="7.4" font-weight="normal" text-anchor="middle" fill="#111" stroke="#111" stroke-width="0.3" textLength="22.80" lengthAdjust="spacingAndGlyphs" >10&#8202;000</text>
<line x1="448.65" y1="156.00" x2="448.65" y2="158.50" stroke="#8a8a8a" stroke-width="1"/>
<text x="448.65" y="167.83" font-family='"Liberation Sans", sans-serif' font-size="7.4" font-weight="normal" text-anchor="middle" fill="#111" stroke="#111" stroke-width="0.3" textLength="22.80" lengthAdjust="spacingAndGlyphs" >20&#8202;000</text>
<line x1="478.07" y1="156.00" x2="478.07" y2="158.50" stroke="#8a8a8a" stroke-width="1"/>
<text x="478.07" y="167.83" font-family='"Liberation Sans", sans-serif' font-size="7.4" font-weight="normal" text-anchor="middle" fill="#111" stroke="#111" stroke-width="0.3" textLength="22.80" lengthAdjust="spacingAndGlyphs" >30&#8202;000</text>
<line x1="507.50" y1="156.00" x2="507.50" y2="158.50" stroke="#8a8a8a" stroke-width="1"/>
<text x="507.50" y="167.83" font-family='"Liberation Sans", sans-serif' font-size="7.4" font-weight="normal" text-anchor="middle" fill="#111" stroke="#111" stroke-width="0.3" textLength="22.80" lengthAdjust="spacingAndGlyphs" >40&#8202;000</text>
<polyline points="396.40,109.10 402.30,120.10 414.20,127.10 437.60,131.00 484.70,136.50" fill="none" stroke="#111" stroke-width="1.0"/>
<polyline points="396.40,134.60 402.30,137.60 414.20,134.20 437.60,140.40 484.70,140.50" fill="none" stroke="#111" stroke-width="1.0"/>
<polyline points="396.40,94.40 402.30,109.40 414.20,121.50 437.60,131.00 484.70,138.00" fill="none" stroke="#111" stroke-width="1.0"/>
<polyline points="396.40,98.20 402.30,112.60 414.20,121.70 437.60,134.20 484.70,138.00" fill="none" stroke="#111" stroke-width="1.0"/>
<circle cx="396.40" cy="94.40" r="2.3" fill="#fff" stroke="#111" stroke-width="1.1"/>
<circle cx="402.30" cy="109.40" r="2.3" fill="#fff" stroke="#111" stroke-width="1.1"/>
<circle cx="414.20" cy="121.50" r="2.3" fill="#fff" stroke="#111" stroke-width="1.1"/>
<circle cx="437.60" cy="131.00" r="2.3" fill="#fff" stroke="#111" stroke-width="1.1"/>
<circle cx="484.70" cy="138.00" r="2.3" fill="#fff" stroke="#111" stroke-width="1.1"/>
<circle cx="396.40" cy="98.20" r="2.3" fill="#fff" stroke="#111" stroke-width="1.1"/>
<circle cx="402.30" cy="112.60" r="2.3" fill="#fff" stroke="#111" stroke-width="1.1"/>
<circle cx="414.20" cy="121.70" r="2.3" fill="#fff" stroke="#111" stroke-width="1.1"/>
<circle cx="437.60" cy="134.20" r="2.3" fill="#fff" stroke="#111" stroke-width="1.1"/>
<circle cx="484.70" cy="138.00" r="2.3" fill="#fff" stroke="#111" stroke-width="1.1"/>
<circle cx="396.40" cy="109.10" r="2.45" fill="#000"/>
<circle cx="402.30" cy="120.10" r="2.45" fill="#000"/>
<circle cx="414.20" cy="127.10" r="2.45" fill="#000"/>
<circle cx="437.60" cy="131.00" r="2.45" fill="#000"/>
<circle cx="484.70" cy="136.50" r="2.45" fill="#000"/>
<circle cx="396.40" cy="134.60" r="2.45" fill="#000"/>
<circle cx="402.30" cy="137.60" r="2.45" fill="#000"/>
<circle cx="414.20" cy="134.20" r="2.45" fill="#000"/>
<circle cx="437.60" cy="140.40" r="2.45" fill="#000"/>
<circle cx="484.70" cy="140.50" r="2.45" fill="#000"/>
<text x="479.00" y="80.10" font-family='"Liberation Serif", serif' font-size="13.5" font-weight="normal" text-anchor="start" fill="#111" stroke="#111" stroke-width="0.5" textLength="20.20" lengthAdjust="spacingAndGlyphs" >IgM</text>
<rect x="393.50" y="189.50" width="113.50" height="88.00" fill="none" stroke="#8a8a8a" stroke-width="1.5"/>
<line x1="391.00" y1="277.50" x2="393.50" y2="277.50" stroke="#8a8a8a" stroke-width="1"/>
<text x="387.50" y="280.16" font-family='"Liberation Sans", sans-serif' font-size="6.0" font-weight="normal" text-anchor="end" fill="#111" stroke="#111" stroke-width="0.45" >0.00</text>
<line x1="391.00" y1="259.90" x2="393.50" y2="259.90" stroke="#8a8a8a" stroke-width="1"/>
<text x="387.50" y="262.56" font-family='"Liberation Sans", sans-serif' font-size="6.0" font-weight="normal" text-anchor="end" fill="#111" stroke="#111" stroke-width="0.45" >0.25</text>
<line x1="391.00" y1="242.30" x2="393.50" y2="242.30" stroke="#8a8a8a" stroke-width="1"/>
<text x="387.50" y="244.96" font-family='"Liberation Sans", sans-serif' font-size="6.0" font-weight="normal" text-anchor="end" fill="#111" stroke="#111" stroke-width="0.45" >0.50</text>
<line x1="391.00" y1="224.70" x2="393.50" y2="224.70" stroke="#8a8a8a" stroke-width="1"/>
<text x="387.50" y="227.36" font-family='"Liberation Sans", sans-serif' font-size="6.0" font-weight="normal" text-anchor="end" fill="#111" stroke="#111" stroke-width="0.45" >0.75</text>
<line x1="391.00" y1="207.10" x2="393.50" y2="207.10" stroke="#8a8a8a" stroke-width="1"/>
<text x="387.50" y="209.76" font-family='"Liberation Sans", sans-serif' font-size="6.0" font-weight="normal" text-anchor="end" fill="#111" stroke="#111" stroke-width="0.45" >1.00</text>
<line x1="391.00" y1="189.50" x2="393.50" y2="189.50" stroke="#8a8a8a" stroke-width="1"/>
<text x="387.50" y="192.16" font-family='"Liberation Sans", sans-serif' font-size="6.0" font-weight="normal" text-anchor="end" fill="#111" stroke="#111" stroke-width="0.45" >1.25</text>
<line x1="393.50" y1="277.50" x2="393.50" y2="280.00" stroke="#8a8a8a" stroke-width="1"/>
<text x="393.50" y="286.32" font-family='"Liberation Sans", sans-serif' font-size="6.0" font-weight="normal" text-anchor="middle" fill="#111" stroke="#111" stroke-width="0.3" >0</text>
<line x1="421.88" y1="277.50" x2="421.88" y2="280.00" stroke="#8a8a8a" stroke-width="1"/>
<text x="420.18" y="286.32" font-family='"Liberation Sans", sans-serif' font-size="6.0" font-weight="normal" text-anchor="middle" fill="#111" stroke="#111" stroke-width="0.3" textLength="18.96" lengthAdjust="spacingAndGlyphs" >250&#8202;000</text>
<line x1="450.25" y1="277.50" x2="450.25" y2="280.00" stroke="#8a8a8a" stroke-width="1"/>
<text x="448.55" y="286.32" font-family='"Liberation Sans", sans-serif' font-size="6.0" font-weight="normal" text-anchor="middle" fill="#111" stroke="#111" stroke-width="0.3" textLength="18.96" lengthAdjust="spacingAndGlyphs" >500&#8202;000</text>
<line x1="478.62" y1="277.50" x2="478.62" y2="280.00" stroke="#8a8a8a" stroke-width="1"/>
<text x="476.93" y="286.32" font-family='"Liberation Sans", sans-serif' font-size="6.0" font-weight="normal" text-anchor="middle" fill="#111" stroke="#111" stroke-width="0.3" textLength="18.96" lengthAdjust="spacingAndGlyphs" >750&#8202;000</text>
<line x1="507.00" y1="277.50" x2="507.00" y2="280.00" stroke="#8a8a8a" stroke-width="1"/>
<text x="505.30" y="286.32" font-family='"Liberation Sans", sans-serif' font-size="6.0" font-weight="normal" text-anchor="middle" fill="#111" stroke="#111" stroke-width="0.3" textLength="22.12" lengthAdjust="spacingAndGlyphs" >1000&#8202;000</text>
<polyline points="399.90,198.10 405.70,224.70 417.30,240.50 439.60,254.00 485.10,261.90" fill="none" stroke="#111" stroke-width="1.0"/>
<polyline points="399.90,204.90 405.70,234.00 417.30,245.10 439.60,259.70 485.10,263.70" fill="none" stroke="#111" stroke-width="1.0"/>
<polyline points="399.90,251.60 405.70,263.00 417.30,262.60 439.60,267.90 485.10,268.80" fill="none" stroke="#111" stroke-width="1.0"/>
<polyline points="399.90,254.00 405.70,263.00 417.30,262.60 439.60,267.90 485.10,268.80" fill="none" stroke="#111" stroke-width="1.0"/>
<circle cx="399.90" cy="251.60" r="2.3" fill="#fff" stroke="#111" stroke-width="1.1"/>
<circle cx="405.70" cy="263.00" r="2.3" fill="#fff" stroke="#111" stroke-width="1.1"/>
<circle cx="417.30" cy="262.60" r="2.3" fill="#fff" stroke="#111" stroke-width="1.1"/>
<circle cx="439.60" cy="267.90" r="2.3" fill="#fff" stroke="#111" stroke-width="1.1"/>
<circle cx="485.10" cy="268.80" r="2.3" fill="#fff" stroke="#111" stroke-width="1.1"/>
<circle cx="399.90" cy="254.00" r="2.3" fill="#fff" stroke="#111" stroke-width="1.1"/>
<circle cx="405.70" cy="263.00" r="2.3" fill="#fff" stroke="#111" stroke-width="1.1"/>
<circle cx="417.30" cy="262.60" r="2.3" fill="#fff" stroke="#111" stroke-width="1.1"/>
<circle cx="439.60" cy="267.90" r="2.3" fill="#fff" stroke="#111" stroke-width="1.1"/>
<circle cx="485.10" cy="268.80" r="2.3" fill="#fff" stroke="#111" stroke-width="1.1"/>
<circle cx="399.90" cy="198.10" r="2.45" fill="#000"/>
<circle cx="405.70" cy="224.70" r="2.45" fill="#000"/>
<circle cx="417.30" cy="240.50" r="2.45" fill="#000"/>
<circle cx="439.60" cy="254.00" r="2.45" fill="#000"/>
<circle cx="485.10" cy="261.90" r="2.45" fill="#000"/>
<circle cx="399.90" cy="204.90" r="2.45" fill="#000"/>
<circle cx="405.70" cy="234.00" r="2.45" fill="#000"/>
<circle cx="417.30" cy="245.10" r="2.45" fill="#000"/>
<circle cx="439.60" cy="259.70" r="2.45" fill="#000"/>
<circle cx="485.10" cy="263.70" r="2.45" fill="#000"/>
<polygon points="401.10,179.80 402.14,181.77 404.33,182.15 402.78,183.75 403.10,185.95 401.10,184.97 399.10,185.95 399.42,183.75 397.87,182.15 400.06,181.77" fill="#111"/>
<polygon points="410.00,179.80 411.04,181.77 413.23,182.15 411.68,183.75 412.00,185.95 410.00,184.97 408.00,185.95 408.32,183.75 406.77,182.15 408.96,181.77" fill="#111"/>
<text x="479.70" y="206.70" font-family='"Liberation Serif", serif' font-size="13.5" font-weight="normal" text-anchor="start" fill="#111" stroke="#111" stroke-width="0.5" textLength="23.20" lengthAdjust="spacingAndGlyphs" >IgG1</text>
<rect x="392.60" y="313.30" width="114.10" height="87.20" fill="none" stroke="#8a8a8a" stroke-width="1.5"/>
<line x1="390.10" y1="400.50" x2="392.60" y2="400.50" stroke="#8a8a8a" stroke-width="1"/>
<text x="387.00" y="403.73" font-family='"Liberation Sans", sans-serif' font-size="6.2" font-weight="normal" text-anchor="end" fill="#111" stroke="#111" stroke-width="0.45" >0.0</text>
<line x1="390.10" y1="371.43" x2="392.60" y2="371.43" stroke="#8a8a8a" stroke-width="1"/>
<text x="387.00" y="374.67" font-family='"Liberation Sans", sans-serif' font-size="6.2" font-weight="normal" text-anchor="end" fill="#111" stroke="#111" stroke-width="0.45" >0.5</text>
<line x1="390.10" y1="342.37" x2="392.60" y2="342.37" stroke="#8a8a8a" stroke-width="1"/>
<text x="387.00" y="345.60" font-family='"Liberation Sans", sans-serif' font-size="6.2" font-weight="normal" text-anchor="end" fill="#111" stroke="#111" stroke-width="0.45" >1.0</text>
<line x1="390.10" y1="313.30" x2="392.60" y2="313.30" stroke="#8a8a8a" stroke-width="1"/>
<text x="387.00" y="316.53" font-family='"Liberation Sans", sans-serif' font-size="6.2" font-weight="normal" text-anchor="end" fill="#111" stroke="#111" stroke-width="0.45" >1.5</text>
<line x1="392.60" y1="400.50" x2="392.60" y2="403.00" stroke="#8a8a8a" stroke-width="1"/>
<text x="392.60" y="410.23" font-family='"Liberation Sans", sans-serif' font-size="5.6" font-weight="normal" text-anchor="middle" fill="#111" stroke="#111" stroke-width="0.3" >0</text>
<line x1="421.12" y1="400.50" x2="421.12" y2="403.00" stroke="#8a8a8a" stroke-width="1"/>
<text x="419.73" y="410.23" font-family='"Liberation Sans", sans-serif' font-size="5.6" font-weight="normal" text-anchor="middle" fill="#111" stroke="#111" stroke-width="0.3" textLength="14.90" lengthAdjust="spacingAndGlyphs" >10&#8202;000</text>
<line x1="449.65" y1="400.50" x2="449.65" y2="403.00" stroke="#8a8a8a" stroke-width="1"/>
<text x="448.25" y="410.23" font-family='"Liberation Sans", sans-serif' font-size="5.6" font-weight="normal" text-anchor="middle" fill="#111" stroke="#111" stroke-width="0.3" textLength="14.90" lengthAdjust="spacingAndGlyphs" >20&#8202;000</text>
<line x1="478.18" y1="400.50" x2="478.18" y2="403.00" stroke="#8a8a8a" stroke-width="1"/>
<text x="476.78" y="410.23" font-family='"Liberation Sans", sans-serif' font-size="5.6" font-weight="normal" text-anchor="middle" fill="#111" stroke="#111" stroke-width="0.3" textLength="14.90" lengthAdjust="spacingAndGlyphs" >30&#8202;000</text>
<line x1="506.70" y1="400.50" x2="506.70" y2="403.00" stroke="#8a8a8a" stroke-width="1"/>
<text x="505.30" y="410.23" font-family='"Liberation Sans", sans-serif' font-size="5.6" font-weight="normal" text-anchor="middle" fill="#111" stroke="#111" stroke-width="0.3" textLength="14.90" lengthAdjust="spacingAndGlyphs" >40&#8202;000</text>
<polyline points="399.40,327.40 405.20,343.00 416.60,362.30 439.60,380.80 485.10,386.00" fill="none" stroke="#111" stroke-width="1.0"/>
<polyline points="399.40,329.10 405.20,343.00 416.60,364.70 439.60,382.60 485.10,387.90" fill="none" stroke="#111" stroke-width="1.0"/>
<polyline points="399.40,366.70 405.20,379.50 416.60,382.60 439.60,388.80 485.10,391.40" fill="none" stroke="#111" stroke-width="1.0"/>
<polyline points="399.40,374.40 405.20,382.60 416.60,384.20 439.60,388.80 485.10,391.40" fill="none" stroke="#111" stroke-width="1.0"/>
<circle cx="399.40" cy="366.70" r="2.3" fill="#fff" stroke="#111" stroke-width="1.1"/>
<circle cx="405.20" cy="379.50" r="2.3" fill="#fff" stroke="#111" stroke-width="1.1"/>
<circle cx="416.60" cy="382.60" r="2.3" fill="#fff" stroke="#111" stroke-width="1.1"/>
<circle cx="439.60" cy="388.80" r="2.3" fill="#fff" stroke="#111" stroke-width="1.1"/>
<circle cx="485.10" cy="391.40" r="2.3" fill="#fff" stroke="#111" stroke-width="1.1"/>
<circle cx="399.40" cy="374.40" r="2.3" fill="#fff" stroke="#111" stroke-width="1.1"/>
<circle cx="405.20" cy="382.60" r="2.3" fill="#fff" stroke="#111" stroke-width="1.1"/>
<circle cx="416.60" cy="384.20" r="2.3" fill="#fff" stroke="#111" stroke-width="1.1"/>
<circle cx="439.60" cy="388.80" r="2.3" fill="#fff" stroke="#111" stroke-width="1.1"/>
<circle cx="485.10" cy="391.40" r="2.3" fill="#fff" stroke="#111" stroke-width="1.1"/>
<circle cx="399.40" cy="327.40" r="2.45" fill="#000"/>
<circle cx="405.20" cy="343.00" r="2.45" fill="#000"/>
<circle cx="416.60" cy="362.30" r="2.45" fill="#000"/>
<circle cx="439.60" cy="380.80" r="2.45" fill="#000"/>
<circle cx="485.10" cy="386.00" r="2.45" fill="#000"/>
<circle cx="399.40" cy="329.10" r="2.45" fill="#000"/>
<circle cx="405.20" cy="343.00" r="2.45" fill="#000"/>
<circle cx="416.60" cy="364.70" r="2.45" fill="#000"/>
<circle cx="439.60" cy="382.60" r="2.45" fill="#000"/>
<circle cx="485.10" cy="387.90" r="2.45" fill="#000"/>
<polygon points="401.80,306.20 402.84,308.17 405.03,308.55 403.48,310.15 403.80,312.35 401.80,311.37 399.80,312.35 400.12,310.15 398.57,308.55 400.76,308.17" fill="#111"/>
<polygon points="410.80,306.20 411.84,308.17 414.03,308.55 412.48,310.15 412.80,312.35 410.80,311.37 408.80,312.35 409.12,310.15 407.57,308.55 409.76,308.17" fill="#111"/>
<text x="473.70" y="329.50" font-family='"Liberation Serif", serif' font-size="13.5" font-weight="normal" text-anchor="start" fill="#111" stroke="#111" stroke-width="0.5" textLength="29.60" lengthAdjust="spacingAndGlyphs" >IgG2a</text>
<text x="410.90" y="427.50" font-family='"Liberation Serif", serif' font-size="15" font-weight="normal" text-anchor="start" fill="#111" stroke="#111" stroke-width="0.5" textLength="81.00" lengthAdjust="spacingAndGlyphs" >Serum dilution</text>
</svg>
</body></html>
